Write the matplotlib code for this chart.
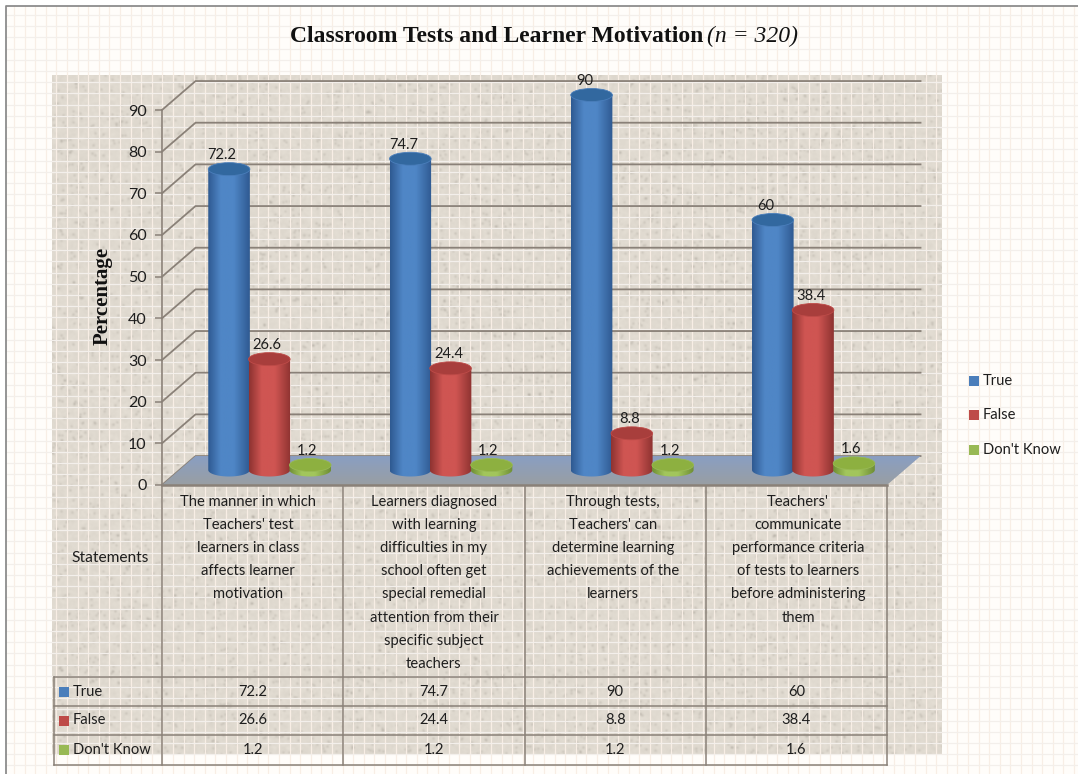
import numpy as np
import matplotlib

matplotlib.use("Agg")
import matplotlib.pyplot as plt
from matplotlib.patches import Ellipse, Polygon, Rectangle

statements = [
    ["The manner in which", "Teachers' test", "learners in class", "affects learner", "motivation"],
    ["Learners diagnosed", "with learning", "difficulties in my", "school often get", "special remedial",
     "attention from their", "specific subject", "teachers"],
    ["Through tests,", "Teachers' can", "determine learning", "achievements of the", "learners"],
    ["Teachers'", "communicate", "performance criteria", "of tests to learners", "before administering", "them"],
]
series_names = ["True", "False", "Don't Know"]
true_vals = [72.2, 74.7, 90, 60]
false_vals = [26.6, 24.4, 8.8, 38.4]
dk_vals = [1.2, 1.2, 1.2, 1.6]
y_ticks = [0, 10, 20, 30, 40, 50, 60, 70, 80, 90]

series = [true_vals, false_vals, dk_vals]
series_colors = ["#4A7EBB", "#BE4B48", "#98B954"]
dark_sides = ["#2F5A92", "#8E3331", "#6F8E34"]
light_mid = ["#4F86C6", "#CF5552", "#A2C65C"]
top_colors = ["#32689F", "#A83E3C", "#8DB040"]
label_dx = [-7, -2, -3]

W, H = 1078, 774
fig = plt.figure(figsize=(W / 100, H / 100), dpi=100, facecolor="white")
plt.rcParams["font.family"] = ["Lato", "DejaVu Sans"]
text_col = "#1E1E1E"
line_col = "#8A8178"
body_size = 10.6

# page + textured panel, in pixel coordinates
bg = fig.add_axes([0, 0, 1, 1], zorder=0)
bg.set_xlim(0, W)
bg.set_ylim(H, 0)
bg.axis("off")
bg.add_patch(Rectangle((6, 6), W, H, fc="#FFFDFA", ec="none"))
for gx in np.arange(14, W, 10.6):
    bg.plot([gx, gx], [6, H], color="#F8EEE5", lw=0.9)
for gy in np.arange(15, H, 11.2):
    bg.plot([6, W], [gy, gy], color="#F3EFEB", lw=0.9)
bg.plot([6, 6, W], [H, 6, 6], color="#8C8C8C", lw=1.3)


def hashed(seed_a, seed_b):
    yy, xx = np.mgrid[0:680, 0:890]
    return np.abs(np.modf(np.sin(xx * seed_a + yy * seed_b + xx * yy * 0.00371) * 43758.5453)[0])


def blur(img, sigma):
    fy = np.fft.fftfreq(img.shape[0])[:, None]
    fx = np.fft.rfftfreq(img.shape[1])[None, :]
    kernel = np.exp(-2 * (np.pi * sigma) ** 2 * (fx ** 2 + fy ** 2))
    return np.fft.irfft2(np.fft.rfft2(img) * kernel, s=img.shape)


grain = blur(hashed(127.1, 311.7), 1.2) - 0.5
specks = blur((hashed(269.5, 183.3) > 0.988).astype(float), 1.1)
shade = 223 + 20 * grain - 110 * specks
panel = np.dstack([shade + 1, shade - 5, shade - 15]).clip(0, 255).astype(np.uint8)
bg.imshow(panel, extent=(52, 942, 755, 75), aspect="auto", zorder=1, interpolation="bilinear")
bg.set_xlim(0, W)
bg.set_ylim(H, 0)

bg.text(290, 36, "Classroom Tests and Learner Motivation", family="Liberation Serif", weight="bold",
        fontsize=17, color="#111111", ha="left", va="center", zorder=5)
bg.text(707, 36, "(n = 320)", family="Liberation Serif", style="italic", fontsize=17,
        color="#111111", ha="left", va="center", zorder=5)
bg.text(103, 296, "Percentage", family="Liberation Serif", weight="bold", fontsize=15,
        color="#111111", rotation=90, ha="center", va="center", zorder=5)

# data table under the chart
col_edges = [162, 343.25, 524.5, 705.75, 887]
row_edges = [677, 706, 735, 765]
statement_x = [248, 434, 613, 798]
for xe in col_edges:
    bg.plot([xe, xe], [486, 765], color=line_col, lw=1.1, zorder=3)
bg.plot([54, 54], [677, 765], color=line_col, lw=1.1, zorder=3)
for ye in row_edges:
    bg.plot([54, 887], [ye, ye], color=line_col, lw=1.1, zorder=3)
bg.text(110, 558, "Statements", fontsize=11.2, color=text_col, ha="center", va="center", zorder=5)
for i, lines in enumerate(statements):
    for j, line in enumerate(lines):
        bg.text(statement_x[i], 502 + 23.1 * j, line, fontsize=body_size, color=text_col,
                ha="center", va="center", zorder=5)
for r, name in enumerate(series_names):
    yc = (row_edges[r] + row_edges[r + 1]) / 2
    bg.add_patch(Rectangle((59, yc - 5), 10, 10, fc=series_colors[r], ec="none", zorder=4))
    bg.text(73, yc, name, fontsize=body_size, color=text_col, ha="left", va="center", zorder=5)
    for i, v in enumerate(series[r]):
        xc = (col_edges[i] + col_edges[i + 1]) / 2
        bg.text(xc, yc, str(v), fontsize=body_size, color=text_col, ha="center", va="center", zorder=5)

# legend on the right
for name, col, ly in zip(series_names, series_colors, [381, 415, 450]):
    bg.add_patch(Rectangle((969, ly - 5), 10, 10, fc=col, ec="none", zorder=4))
    bg.text(983, ly, name, fontsize=body_size, color=text_col, ha="left", va="center", zorder=5)

# chart axes: x in categories, y in percent, front plane of the 3-D box
ax = fig.add_axes([162 / W, 1 - 485 / H, 725 / W, 375 / H], zorder=2)
ax.patch.set_alpha(0)
for s in ax.spines.values():
    s.set_visible(False)
ax.set_xticks([])
ax.set_yticks(y_ticks)
ax.tick_params(axis="y", length=5, color=line_col, width=1.1, labelsize=11.5, labelcolor=text_col, pad=6)

depth_x, depth_y = 0.185, 6.95
mid_y = 3.6
px_x, px_y = 181.25, 4.167

ax.plot([0, 0], [0, 90], color=line_col, lw=1.2, zorder=1, clip_on=False)
for t in y_ticks:
    ax.plot([0, depth_x, 4 + depth_x], [t, t + depth_y, t + depth_y], color=line_col, lw=1.3,
            zorder=1, clip_on=False)

# floor of the box, lighter at the back
floor = Polygon([(0, 0), (4, 0), (4 + depth_x, depth_y), (depth_x, depth_y)], closed=True,
                fc="none", ec="none", zorder=2)
ax.add_patch(floor)
floor_grad = np.linspace(0, 1, 30)[:, None, None] * (np.array([0.60, 0.62, 0.64]) - np.array([0.54, 0.62, 0.76])) \
    + np.array([0.54, 0.62, 0.76])
floor_im = ax.imshow(floor_grad, extent=(0, 4 + depth_x, 0, depth_y), aspect="auto", zorder=2,
                     origin="upper", interpolation="bilinear")
floor_im.set_clip_path(floor)
floor_im.set_clip_box(fig.bbox)
ax.plot([0, 4], [0, 0], color="#8A8178", lw=1.8, zorder=2, clip_on=False)

half_w = 20.8 / px_x
ell_h = 13 / px_y
ell_w = half_w * 2
offsets = [-0.130, 0.092, 0.318]
arc = np.linspace(np.pi, 2 * np.pi, 40)

for s, vals in enumerate(series):
    ramp = np.array([matplotlib.colors.to_rgb(c) for c in (dark_sides[s], light_mid[s], light_mid[s], dark_sides[s])])
    pos = np.linspace(0, 1, 60)
    grad = np.stack([np.interp(pos, [0, 0.3, 0.62, 1], ramp[:, k]) for k in range(3)], axis=1)[None, :, :]
    for i, v in enumerate(vals):
        xc = i + 0.5 + offsets[s]
        top = mid_y + v
        # side of the cylinder: rectangle with the rounded bottom edge
        outline = [(xc - half_w, top)]
        outline += [(xc + half_w * np.cos(a), mid_y + ell_h / 2 * np.sin(a)) for a in arc]
        outline += [(xc + half_w, top)]
        body = Polygon(outline, closed=True, fc="none", ec="none", zorder=3 + s, clip_on=False)
        ax.add_patch(body)
        im = ax.imshow(grad, extent=(xc - half_w, xc + half_w, mid_y - ell_h, top), aspect="auto",
                       zorder=3 + s, interpolation="bilinear")
        im.set_clip_path(body)
        im.set_clip_box(fig.bbox)
        ax.add_patch(Ellipse((xc, top), ell_w, ell_h, fc=top_colors[s], ec=series_colors[s], lw=0.6,
                             zorder=3 + s, clip_on=False))
        ax.annotate(str(v), xy=(xc, top), xytext=(label_dx[s] * 0.72, 5), textcoords="offset points",
                    fontsize=body_size, color=text_col, ha="center", va="bottom", zorder=8, annotation_clip=False)

ax.set_xlim(0, 4)
ax.set_ylim(0, 90)

fig.savefig("out.png", dpi=100)
plt.close(fig)
